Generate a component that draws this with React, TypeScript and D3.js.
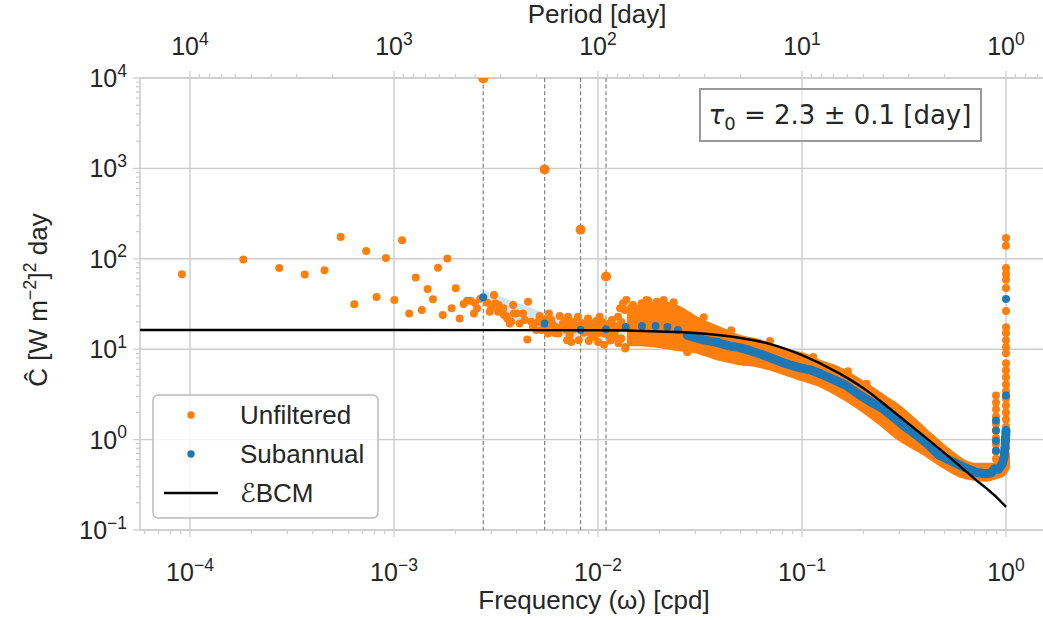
import React from 'react';
import * as d3 from 'd3';

const W = 1043;
const H = 620;
const M = { left: 140, right: 1047, top: 78, bottom: 530 };

// annual harmonics (cpd) and their unfiltered spike power
const harmonicFreqs = [0.002738, 0.005476, 0.008214, 0.010951];
const harmonicPower = [9870, 975, 210, 63.6];

// unfiltered periodogram, lowest frequencies
const lowFreq = [9.13e-5, 1.826e-4, 2.738e-4, 3.651e-4, 4.564e-4, 5.477e-4, 6.389e-4, 7.302e-4, 8.215e-4, 9.128e-4,
  1.004e-3, 1.095e-3, 1.187e-3, 1.278e-3, 1.369e-3, 1.461e-3, 1.552e-3, 1.643e-3, 1.734e-3, 1.826e-3,
  1.917e-3, 2.008e-3, 2.099e-3, 2.191e-3, 2.282e-3, 2.373e-3, 2.465e-3, 2.556e-3, 2.647e-3];
const lowPower = [67.6, 98, 79, 67, 74.9, 174, 31.4, 122, 37.8, 102,
  35, 160, 24.9, 62, 27.1, 46.4, 35.7, 79.4, 23.9, 100.8,
  28.3, 47.3, 21.9, 31.6, 34.4, 34.4, 24.9, 28.3, 36.2];

// unfiltered scatter cloud between the annual harmonics
const cloudFreq = [0.002495, 0.002866, 0.002944, 0.002999, 0.003092, 0.003136, 0.003236, 0.003259, 0.003357, 0.003437,
  0.003461, 0.003541, 0.003592, 0.003691, 0.00376, 0.003838, 0.00387, 0.003978, 0.004131, 0.00429,
  0.004372, 0.004502, 0.004539, 0.00471, 0.004801, 0.004983, 0.00511, 0.005179, 0.005274, 0.00541,
  0.00552, 0.00556, 0.005688, 0.00575, 0.006, 0.005903, 0.006133, 0.0062, 0.00637, 0.0064,
  0.006492, 0.0066, 0.006738, 0.0069, 0.006992, 0.00705, 0.007126, 0.0072, 0.007265, 0.0074,
  0.00754, 0.0076, 0.0078, 0.00798, 0.00805, 0.0083, 0.0085, 0.008606, 0.0087, 0.0090,
  0.00901, 0.008933, 0.0092, 0.009272, 0.009452, 0.009564, 0.0096, 0.0098, 0.0100, 0.01001,
  0.010193, 0.01038, 0.0105, 0.0107, 0.0108, 0.011, 0.0113, 0.011411, 0.01145, 0.0115,
  0.0117, 0.012, 0.012078, 0.0122, 0.012531, 0.0126, 0.01261, 0.01283, 0.0130, 0.013008,
  0.01327, 0.013516, 0.0136, 0.01365, 0.013759, 0.01454, 0.014847, 0.016379, 0.01728, 0.017645,
  0.01826, 0.019394, 0.0194, 0.023315, 0.02742, 0.031623];
const cloudPower = [32.2, 32.7, 26.0, 28.3, 39.8, 32.2, 26.0, 30.8, 26.0, 28.3,
  23.9, 23.3, 21.9, 19.3, 20.1, 30.8, 24.9, 24.9, 19.3, 24.9,
  21.0, 12.8, 33.5, 20.1, 17.7, 16.3, 20.1, 23.3, 16.3, 18.5,
  21.0, 17.0, 14.9, 24.9, 18.8, 21.0, 17.7, 15.0, 16.3, 14.9,
  23.3, 17.5, 19.3, 20.5, 16.3, 12.6, 22.9, 18.0, 14.3, 12.0,
  20.1, 16.5, 18.2, 22.9, 12.6, 19.5, 15.2, 16.3, 18.4, 17.0,
  12.3, 21.9, 16.0, 14.3, 19.3, 13.7, 17.5, 20.5, 15.0, 12.0,
  22.9, 17.7, 20.0, 11.2, 14.8, 18.0, 16.0, 19.3, 14.3, 12.5,
  21.0, 18.0, 15.6, 13.5, 22.9, 17.5, 11.6, 28.3, 20.0, 13.1,
  32.2, 27.1, 10.2, 10.6, 35.0, 29.0, 30.8, 32.2, 35.0, 34.4,
  11.6, 32.2, 33.5, 11.1, 9.33, 9.75];

// dense unfiltered band: envelope of the point centres
const bandFreq = [0.0145, 0.016, 0.02, 0.025, 0.03, 0.04, 0.05, 0.06, 0.08, 0.1, 0.12, 0.15,
  0.2, 0.25, 0.3, 0.4, 0.5, 0.6, 0.7, 0.8, 0.9, 0.96, 1.0];
const bandHigh = [27.0, 28.5, 30.8, 27.1, 21.0, 15.8, 12.9, 11.9, 9.26, 8.36, 7.0, 5.84,
  3.98, 2.85, 2.15, 1.2, 0.774, 0.569, 0.501, 0.501, 0.501, 0.555, 0.663];
const bandLow = [11.9, 11.9, 11.4, 10.5, 10.0, 8.15, 7.36, 7.0, 5.84, 4.89, 4.3, 3.33,
  2.21, 1.51, 1.08, 0.736, 0.527, 0.419, 0.388, 0.378, 0.408, 0.43, 0.5];

// band outliers and the diurnal peak columns
const edgeFreq = [0.0697, 0.168, 0.1136, 0.2075, 0.02742, 0.01826, 0.021, 0.0235, 0.033, 0.045];
const edgePower = [12.3, 5.7, 8.2, 4.16, 9.33, 11.6, 35.0, 33.0, 22.5, 16.2];
const diurnalFreq = [1, 1, 1, 1, 1, 1, 1, 1, 1, 1, 1, 1, 1, 1, 1, 1, 1, 1, 1, 1, 1, 1, 1, 1, 1, 1, 1,
  0.893, 0.893, 0.893, 0.893, 0.893, 0.893, 0.893, 0.893, 0.893, 0.893, 0.893];
const diurnalPower = [170, 139, 79, 68, 58.5, 47.5, 26.5, 17.5, 15.1, 12.6, 10.5, 9.0, 7.0, 5.84, 4.89, 4.08,
  3.41, 2.85, 2.39, 2.0, 1.67, 1.39, 1.17, 0.97, 0.815, 0.68, 0.57,
  3.08, 2.58, 2.16, 1.8, 1.5, 1.26, 1.05, 0.88, 0.74, 0.615, 0.51];

// subannual periodogram
const subFreq = [0.002738, 0.005476, 0.008214, 0.010951, 0.01369, 0.01643, 0.01916, 0.0219, 0.02464, 0.02738,
  0.03285, 0.03833, 0.0438, 0.04928, 0.05476, 0.06297, 0.07118, 0.08214, 0.09582, 0.1095,
  0.1232, 0.1369, 0.1643, 0.1916, 0.219, 0.2464, 0.2738, 0.3149, 0.3559, 0.4107,
  0.4654, 0.5476, 0.6297, 0.7118, 0.794, 0.8487, 0.8761, 0.92, 0.96, 0.98, 0.99, 0.995, 1.0];
const subPower = [37.6, 19.3, 16.3, 16.6, 17.6, 18.0, 18.0, 17.6, 16.3, 14.3,
  12.7, 11.9, 10.9, 10.4, 9.75, 8.8, 7.94, 7.0, 6.3, 5.92,
  5.35, 4.82, 3.98, 3.12, 2.58, 2.24, 1.85, 1.43, 1.166, 0.903,
  0.681, 0.569, 0.489, 0.436, 0.419, 0.43, 0.476, 0.47, 0.54, 0.66, 0.86, 1.03, 1.26];
const subExtraFreq = [0.893, 0.893, 0.893, 0.893, 1.0, 1.0];
const subExtraPower = [1.63, 1.26, 0.97, 0.755, 36, 3.08];
const subBandFreq = [0.002738, 0.005476, 0.008214, 0.010951, 0.01369];
const subBandHigh = [45.2, 25.1, 21.0, 21.0, 22.0];
const subBandLow = [31.0, 15.5, 13.0, 13.5, 14.5];

// EBCM fit
const fitFreq = [5e-5, 0.001, 0.01, 0.02, 0.03, 0.05, 0.07, 0.1, 0.15, 0.2, 0.3, 0.4, 0.5, 0.6, 0.7, 0.8, 0.9, 1.0];
const fitPower = [16.3, 16.3, 16.2, 15.7, 15.1, 13.3, 11.4, 8.6, 5.5, 3.7, 1.81, 1.07, 0.71, 0.5, 0.37, 0.29, 0.23, 0.18];

const xExponents = [-4, -3, -2, -1, 0];
const yExponents = [-1, 0, 1, 2, 3, 4];
const periodExponents = [4, 3, 2, 1, 0];

const ORANGE = '#ff7f0e';
const BLUE = '#1f77b4';
const GRID = '#cccccc';
const TEXT = '#262626';
const FONT = '"Liberation Sans", Arial, sans-serif';
const FS = 26;
const TFS = 25;

const Pow = ({ e, size }: { e: number; size: number }) => (
  <>
    <tspan>10</tspan>
    <tspan dy={-0.42 * size} fontSize={0.7 * size}>{e < 0 ? `\u2212${-e}` : `${e}`}</tspan>
  </>
);

export default function App() {
  const x = d3.scaleLog().domain([Math.pow(10, -4.2451), Math.pow(10, 0.201)]).range([M.left, M.right]);
  const y = d3.scaleLog().domain([0.1, 1e4]).range([M.bottom, M.top]);

  const minorX: number[] = [];
  const minorY: number[] = [];
  const minorTop: number[] = [];
  for (let e = -5; e <= 0; e++) for (let m = 2; m <= 9; m++) {
    const v = m * Math.pow(10, e);
    if (v >= x.domain()[0] && v <= x.domain()[1]) minorX.push(x(v));
  }
  for (let e = -1; e <= 3; e++) for (let m = 2; m <= 9; m++) minorY.push(y(m * Math.pow(10, e)));
  for (let e = -1; e <= 4; e++) for (let m = 2; m <= 9; m++) {
    const f = 1 / (m * Math.pow(10, e));
    if (f >= x.domain()[0] && f <= x.domain()[1]) minorTop.push(x(f));
  }

  const band = d3.area<number>()
    .x((i) => x(bandFreq[i]))
    .y0((i) => y(bandLow[i]))
    .y1((i) => y(bandHigh[i]))
    .curve(d3.curveMonotoneX);
  const subBand = d3.area<number>()
    .x((i) => x(subBandFreq[i]))
    .y0((i) => y(subBandLow[i]))
    .y1((i) => y(subBandHigh[i]));
  const subLine = d3.line<number>()
    .x((i) => x(subFreq[i]))
    .y((i) => y(subPower[i]));
  const fitLine = d3.line<number>()
    .x((i) => x(fitFreq[i]))
    .y((i) => y(fitPower[i]))
    .curve(d3.curveMonotoneX);

  const idx = (a: number[]) => a.map((_, i) => i);

  return (
    <svg width={W} height={H} style={{ position: 'absolute', left: 0, top: 0, background: '#fff' }}
      fontFamily={FONT} fill={TEXT}>
      <defs>
        <clipPath id="plot"><rect x={M.left} y={M.top} width={M.right - M.left} height={M.bottom - M.top} /></clipPath>
      </defs>

      {/* grid */}
      <g stroke={GRID} strokeWidth={1.4}>
        {xExponents.map((e) => <line key={'gx' + e} x1={x(Math.pow(10, e))} x2={x(Math.pow(10, e))} y1={M.top} y2={M.bottom} />)}
        {yExponents.map((e) => <line key={'gy' + e} x1={M.left} x2={M.right} y1={y(Math.pow(10, e))} y2={y(Math.pow(10, e))} />)}
      </g>

      {/* ticks */}
      <g stroke={GRID} strokeWidth={1.2}>
        {minorX.map((p, i) => <line key={'mx' + i} x1={p} x2={p} y1={M.bottom} y2={M.bottom + 4} />)}
        {xExponents.map((e) => <line key={'tx' + e} x1={x(Math.pow(10, e))} x2={x(Math.pow(10, e))} y1={M.bottom} y2={M.bottom + 7} />)}
        {minorY.map((p, i) => <line key={'my' + i} x1={M.left - 4} x2={M.left} y1={p} y2={p} />)}
        {yExponents.map((e) => <line key={'ty' + e} x1={M.left - 7} x2={M.left} y1={y(Math.pow(10, e))} y2={y(Math.pow(10, e))} />)}
        {minorTop.map((p, i) => <line key={'mt' + i} x1={p} x2={p} y1={M.top - 4} y2={M.top} />)}
        {periodExponents.map((e) => <line key={'tt' + e} x1={x(1 / Math.pow(10, e))} x2={x(1 / Math.pow(10, e))} y1={M.top - 7} y2={M.top} />)}
      </g>

      {/* spines */}
      <g stroke={GRID} strokeWidth={1.6} fill="none">
        <line x1={M.left} x2={M.left} y1={M.top} y2={M.bottom} />
        <line x1={M.left} x2={M.right} y1={M.top} y2={M.top} />
        <line x1={M.left} x2={M.right} y1={M.bottom} y2={M.bottom} />
      </g>

      <g clipPath="url(#plot)">
        {harmonicFreqs.map((f, i) => (
          <line key={'h' + i} x1={x(f)} x2={x(f)} y1={M.top} y2={M.bottom} stroke="#808080" strokeWidth={1.2} strokeDasharray="4,2.6" />
        ))}
        <path d={subBand(idx(subBandFreq)) || ''} fill={BLUE} fillOpacity={0.2} />
        <path d={band(idx(bandFreq)) || ''} fill={ORANGE} stroke={ORANGE} strokeWidth={8} strokeLinejoin="round" />
        {lowFreq.map((f, i) => <circle key={'l' + i} cx={x(f)} cy={y(lowPower[i])} r={4} fill={ORANGE} />)}
        {cloudFreq.map((f, i) => <circle key={'c' + i} cx={x(f)} cy={y(cloudPower[i])} r={4} fill={ORANGE} />)}
        {edgeFreq.map((f, i) => <circle key={'e' + i} cx={x(f)} cy={y(edgePower[i])} r={4} fill={ORANGE} />)}
        {diurnalFreq.map((f, i) => <circle key={'d' + i} cx={x(f)} cy={y(diurnalPower[i])} r={4} fill={ORANGE} />)}
        {harmonicFreqs.map((f, i) => <circle key={'hp' + i} cx={x(f)} cy={y(harmonicPower[i])} r={5} fill={ORANGE} />)}
        <path d={subLine(idx(subFreq).slice(9)) || ''} fill="none" stroke={BLUE} strokeWidth={9} strokeLinejoin="round" strokeLinecap="round" />
        {subFreq.map((f, i) => <circle key={'s' + i} cx={x(f)} cy={y(subPower[i])} r={4} fill={BLUE} />)}
        {subExtraFreq.map((f, i) => <circle key={'se' + i} cx={x(f)} cy={y(subExtraPower[i])} r={4} fill={BLUE} />)}
        <path d={fitLine(idx(fitFreq)) || ''} fill="none" stroke="#000" strokeWidth={2.4} />
      </g>

      {/* tick labels */}
      <g fontSize={TFS} textAnchor="middle">
        {xExponents.map((e) => (
          <text key={'lx' + e} x={x(Math.pow(10, e))} y={581}><Pow e={e} size={TFS} /></text>
        ))}
        {periodExponents.map((e) => (
          <text key={'lt' + e} x={x(1 / Math.pow(10, e))} y={55}><Pow e={e} size={TFS} /></text>
        ))}
      </g>
      <g fontSize={TFS} textAnchor="end">
        {yExponents.map((e) => (
          <text key={'ly' + e} x={127} y={y(Math.pow(10, e)) + 9}><Pow e={e} size={TFS} /></text>
        ))}
      </g>

      {/* axis titles */}
      <text x={594} y={609} fontSize={FS} textAnchor="middle">Frequency (ω) [cpd]</text>
      <text x={597} y={23} fontSize={FS} textAnchor="middle">Period [day]</text>
      <text transform="translate(47,300) rotate(-90)" fontSize={FS} textAnchor="middle">
        <tspan>Ĉ [W m</tspan>
        <tspan dy={-11} fontSize={18}>−2</tspan>
        <tspan dy={11}>]</tspan>
        <tspan dy={-11} fontSize={18}>2</tspan>
        <tspan dy={11}> day</tspan>
      </text>

      {/* fitted decay time box */}
      <rect x={700} y={89} width={281} height={52} fill="#fff" fillOpacity={0.5} stroke="#999" strokeWidth={2} />
      <text x={840} y={124} fontSize={26} textAnchor="middle" fontFamily='"DejaVu Sans", sans-serif'>
        <tspan fontStyle="italic">τ</tspan>
        <tspan dy={6} fontSize={18}>0</tspan>
        <tspan dy={-6}> = 2.3 ± 0.1 [day]</tspan>
      </text>

      {/* legend */}
      <g>
        <rect x={153} y={395} width={225} height={123} rx={5} fill="#fff" fillOpacity={0.8} stroke="#bbbbbb" strokeWidth={1.5} />
        <circle cx={191} cy={415} r={3.7} fill={ORANGE} />
        <text x={240} y={424} fontSize={FS}>Unfiltered</text>
        <circle cx={191} cy={454} r={3.7} fill={BLUE} />
        <text x={240} y={463} fontSize={FS}>Subannual</text>
        <line x1={164} x2={218} y1={493} y2={493} stroke="#000" strokeWidth={2.4} />
        <text x={240} y={502} fontSize={FS}>
          <tspan fontFamily='"DejaVu Sans", serif' fontStyle="italic">ℰ</tspan>
          <tspan>BCM</tspan>
        </text>
      </g>
    </svg>
  );
}
